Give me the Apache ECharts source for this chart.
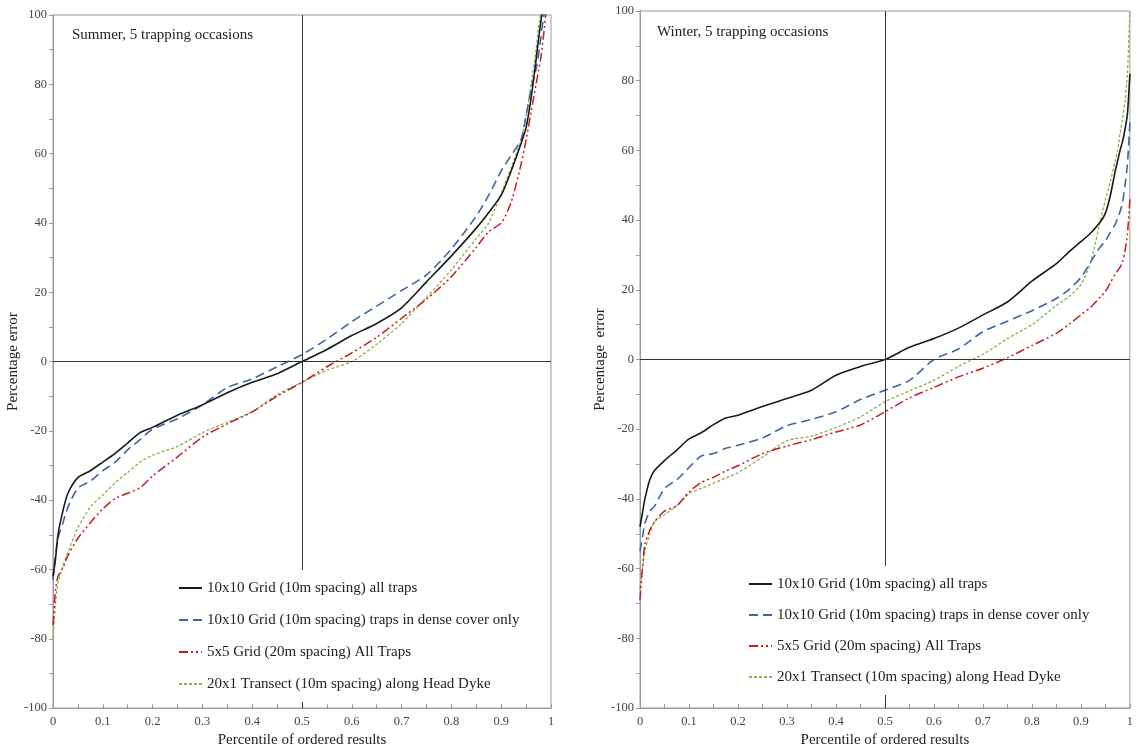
<!DOCTYPE html>
<html>
<head>
<meta charset="utf-8">
<script src="https://cdn.jsdelivr.net/npm/echarts@6/dist/echarts.min.js"></script>
<style>
html,body{margin:0;padding:0;background:#fff;}
#chart{width:1136px;height:753px;}
</style>
</head>
<body>
<div id="chart"></div>
<script>
// Percentile of ordered results (shared x grid)
const percentile = [0, 0.005, 0.01, 0.02, 0.03, 0.05, 0.075, 0.1, 0.125, 0.15, 0.175, 0.2, 0.25, 0.3, 0.35, 0.4, 0.45, 0.5, 0.55, 0.6, 0.65, 0.7, 0.75, 0.8, 0.85, 0.875, 0.9, 0.92, 0.94, 0.95, 0.96, 0.97, 0.975, 0.98, 0.985, 0.99, 0.995, 1];

const seriesNames = [
  '10x10 Grid (10m spacing) all traps',
  '10x10 Grid (10m spacing) traps in dense cover only',
  '5x5 Grid (20m spacing) All Traps',
  '20x1 Transect (10m spacing) along Head Dyke'
];

// Summer, percentage error
const summerAll   = [-62, -57, -50, -43, -38, -33.5, -31.5, -29, -26.5, -23.5, -20.5, -19, -15.5, -12.5, -9, -6, -3.5, 0, 3.5, 7.5, 11, 15.5, 23, 30.5, 38.5, 43, 48, 55, 63, 67.5, 76, 87, 93, 98.5, 104, 110, 118, 125];
const summerDense = [-63, -56, -51, -46.5, -42, -36.5, -34.5, -31.5, -29, -25.5, -22.5, -19.5, -16.5, -12.5, -7.5, -5, -1.5, 2, 6.5, 11.5, 16, 20.5, 25, 32.5, 42, 48, 55, 59.5, 64, 71, 78.5, 84.5, 88.5, 94, 99.5, 106, 115, 125];
const summer5x5   = [-76, -66, -62, -59.5, -56, -51, -46.5, -42.5, -39.5, -38, -36.4, -33, -27.5, -21.8, -18, -14.5, -10, -6, -1.5, 2.5, 7, 12.5, 18, 24.5, 33, 37.5, 40, 46, 57, 64, 72, 80, 84, 88, 94, 101, 110, 120];
const summerTrans = [-80, -70, -64, -59, -55, -48, -42, -38.5, -35, -32, -29, -27, -24.5, -20.5, -17.5, -14.5, -9.5, -6, -2.5, 0, 5, 11, 18.5, 26.5, 35.5, 40, 48.5, 56, 64, 71, 80, 90, 96.5, 101, 106, 112, 120, 130];

// Winter, percentage error
const winterAll   = [-48, -44, -40, -34.5, -31.8, -29, -26, -22.8, -21, -18.7, -16.8, -16, -13.5, -11.2, -8.8, -4.5, -2, 0, 3.5, 6, 9, 12.8, 16.5, 22.5, 27.5, 30.8, 33.8, 36.3, 39.5, 42, 47, 54, 57, 60, 62.5, 66, 70.5, 82];
const winterDense = [-55, -51, -47, -43.5, -42, -37, -34.5, -31, -27.7, -27, -25.5, -24.6, -22.5, -19, -17.2, -15, -11.5, -8.8, -6, 0, 3, 8, 11, 14, 17.5, 20, 23.5, 28, 32.4, 34, 36.5, 38.8, 40.5, 42.5, 45, 50, 56, 68];
const winter5x5   = [-69, -60, -53, -49, -46.5, -43.5, -42, -38, -35.3, -33.8, -32, -30.5, -27, -24.8, -23, -20.8, -18.8, -15, -11, -8, -5, -2.5, 0.5, 4, 7.5, 10, 12.8, 15, 18, 19.5, 22, 24.5, 25.5, 26.5, 28, 31, 36, 46];
const winterTrans = [-66, -60, -55, -50, -46.5, -44.5, -42, -38.5, -37, -35.5, -34, -32.5, -28, -23.3, -22, -19.5, -16.5, -12.1, -9, -6, -2, 1.5, 6, 10, 15.5, 18, 21.5, 28, 40, 45.8, 51, 57, 60, 64.9, 69, 74, 82, 100];

// axis tick labels
const xTickLabels = ['0', '0.1', '0.2', '0.3', '0.4', '0.5', '0.6', '0.7', '0.8', '0.9', '1'];
const yTickLabels = ['-100', '-80', '-60', '-40', '-20', '0', '20', '40', '60', '80', '100'];

const FONT = "'Liberation Serif', 'DejaVu Serif', serif";
const styles = [
  {color: '#1a1a1a', width: 1.6, type: 'solid'},
  {color: '#3e66a3', width: 1.6, type: [9, 5]},
  {color: '#c41e1e', width: 1.5, type: [9, 3, 2, 3, 2, 3]},
  {color: '#8db04a', width: 1.3, type: [3, 2]}
];

function pairs(arr) { return percentile.map((p, i) => [p, arr[i]]); }

function xAxisFor(idx) {
  return {
    gridIndex: idx, type: 'value', min: 0, max: 1, interval: 0.05,
    name: 'Percentile of ordered results', nameLocation: 'middle', nameGap: 22,
    nameTextStyle: {fontFamily: FONT, fontSize: 15, color: '#222'},
    axisLine: {show: true, onZero: false, lineStyle: {color: '#9a9a9a', width: 1}},
    axisTick: {show: true, inside: true, length: 4, lineStyle: {color: '#9a9a9a'}},
    axisLabel: {
      margin: 7, fontFamily: FONT, fontSize: 12.5, color: '#444',
      formatter: v => { const k = Math.round(v * 20); return k % 2 === 0 ? xTickLabels[k / 2] : ''; }
    },
    splitLine: {show: false}
  };
}
function yAxisFor(idx, gap) {
  return {
    gridIndex: idx, type: 'value', min: -100, max: 100, interval: 10,
    name: idx === 0 ? 'Percentage error' : 'Percentage  error', nameLocation: 'middle', nameGap: gap,
    nameTextStyle: {fontFamily: FONT, fontSize: 15, color: '#222'},
    axisLine: {show: true, onZero: false, lineStyle: {color: '#9a9a9a', width: 1}},
    axisTick: {show: true, length: 4, lineStyle: {color: '#9a9a9a'}},
    axisLabel: {
      margin: 6, fontFamily: FONT, fontSize: 12.5, color: '#444',
      formatter: v => { const k = Math.round(v / 10) + 10; return k % 2 === 0 ? yTickLabels[k / 2] : ''; }
    },
    splitLine: {show: false}
  };
}

function makeSeries(idx, arrays) {
  const order = [3, 2, 1, 0];
  return order.map(k => {
    const s = {
      name: seriesNames[k], type: 'line', xAxisIndex: idx, yAxisIndex: idx,
      data: pairs(arrays[k]), showSymbol: false, symbol: 'none', smooth: 0.25,
      clip: true, lineStyle: styles[k], itemStyle: {color: styles[k].color},
      z: 2
    };
    if (k === 0) {
      s.markLine = {
        silent: true, symbol: 'none', animation: false,
        label: {show: false},
        lineStyle: {color: '#333', width: 1, type: 'solid'},
        data: [{xAxis: 0.5}, {yAxis: 0}]
      };
    }
    return s;
  });
}

function legendFor(left, top, gap) {
  return {
    data: seriesNames, orient: 'vertical', left: left, top: top, z: 20,
    itemWidth: 23, itemHeight: 14, itemGap: gap,
    padding: [10, 10, 10, 10], backgroundColor: '#fff',
    selectedMode: false,
    itemStyle: {opacity: 0},
    textStyle: {fontFamily: FONT, fontSize: 15, color: '#222', lineHeight: 16}
  };
}

const chart = echarts.init(document.getElementById('chart'), null, {renderer: 'canvas'});
chart.setOption({
  animation: false,
  backgroundColor: '#fff',
  title: [
    {text: 'Summer, 5 trapping occasions', left: 67, top: 23, textStyle: {fontFamily: FONT, fontSize: 15, fontWeight: 'normal', color: '#222'}},
    {text: 'Winter, 5 trapping occasions', left: 652, top: 20, textStyle: {fontFamily: FONT, fontSize: 15, fontWeight: 'normal', color: '#222'}}
  ],
  legend: [legendFor(168, 570, 16), legendFor(738, 566, 15)],
  grid: [
    {left: 53, top: 15, width: 498, height: 698, show: true, borderColor: '#9a9a9a', borderWidth: 1, backgroundColor: 'transparent'},
    {left: 640, top: 11, width: 493, height: 697, show: true, borderColor: '#9a9a9a', borderWidth: 1, backgroundColor: 'transparent'}
  ],
  xAxis: [xAxisFor(0), xAxisFor(1)],
  yAxis: [yAxisFor(0, 27), yAxisFor(1, 31)],
  series: [].concat(
    makeSeries(0, [summerAll, summerDense, summer5x5, summerTrans]),
    makeSeries(1, [winterAll, winterDense, winter5x5, winterTrans])
  )
});
</script>
</body>
</html>
